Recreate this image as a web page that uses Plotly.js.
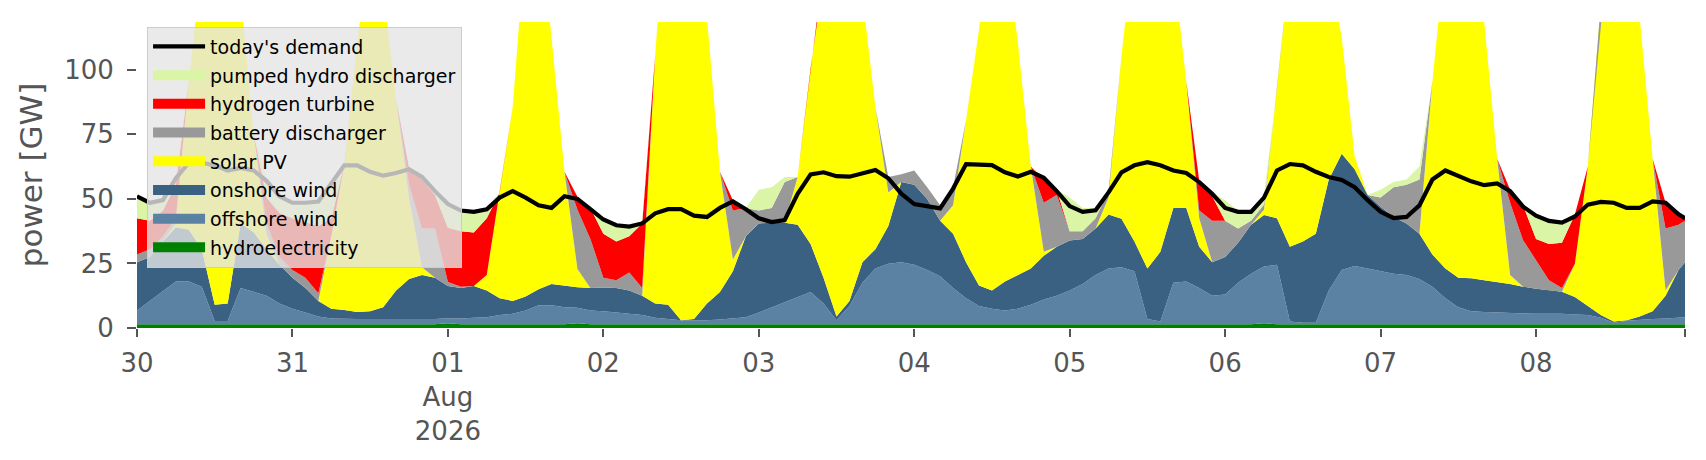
<!DOCTYPE html>
<html>
<head>
<meta charset="utf-8">
<script src="https://cdn.plot.ly/plotly-3.0.1.min.js"></script>
<style>
  html, body { margin: 0; padding: 0; background: #fff; }
  #chart { width: 1706px; height: 460px; }
</style>
</head>
<body>
<div id="chart"></div>
<script>
// hours after 2026-07-30 00:00 (two-hourly samples, last one at 23:00 on Aug 8)
var hours = [
  0, 2, 4, 6, 8, 10, 12, 14, 16, 18, 20, 22,
  24, 26, 28, 30, 32, 34, 36, 38, 40, 42, 44, 46,
  48, 50, 52, 54, 56, 58, 60, 62, 64, 66, 68, 70,
  72, 74, 76, 78, 80, 82, 84, 86, 88, 90, 92, 94,
  96, 98, 100, 102, 104, 106, 108, 110, 112, 114, 116, 118,
  120, 122, 124, 126, 128, 130, 132, 134, 136, 138, 140, 142,
  144, 146, 148, 150, 152, 154, 156, 158, 160, 162, 164, 166,
  168, 170, 172, 174, 176, 178, 180, 182, 184, 186, 188, 190,
  192, 194, 196, 198, 200, 202, 204, 206, 208, 210, 212, 214,
  216, 218, 220, 222, 224, 226, 228, 230, 232, 234, 236, 238,
  239
];

// GW, one row per day
var hydro = [
  1.5, 1.5, 1.5, 1.5, 1.5, 1.5, 1.5, 1.5, 1.5, 1.5, 1.5, 1.5,
  1.5, 1.5, 1.5, 1.5, 1.5, 1.5, 1.5, 1.5, 1.5, 1.5, 1.5, 1.5,
  1.8, 1.5, 1.5, 1.5, 1.5, 1.5, 1.5, 1.5, 1.5, 1.5, 1.8, 1.5,
  1.5, 1.5, 1.5, 1.5, 1.5, 1.5, 1.5, 1.5, 1.5, 1.5, 1.5, 1.5,
  1.5, 1.5, 1.5, 1.5, 1.5, 1.5, 1.5, 1.5, 1.5, 1.5, 1.5, 1.5,
  1.5, 1.5, 1.5, 1.5, 1.5, 1.5, 1.5, 1.5, 1.5, 1.5, 1.5, 1.5,
  1.5, 1.5, 1.5, 1.5, 1.5, 1.5, 1.5, 1.5, 1.5, 1.5, 1.5, 1.5,
  1.5, 1.5, 1.5, 1.8, 1.5, 1.5, 1.5, 1.5, 1.5, 1.5, 1.5, 1.5,
  1.5, 1.5, 1.5, 1.5, 1.5, 1.5, 1.5, 1.5, 1.5, 1.5, 1.5, 1.5,
  1.5, 1.5, 1.5, 1.5, 1.5, 1.5, 1.5, 1.5, 1.5, 1.5, 1.5, 1.5,
  1.5
];
var offshore = [
  5.3, 9, 13, 16.5, 16.5, 14.5, 1.2, 1.2, 14, 12.5, 11, 8,
  6, 4.5, 3, 2.2, 2, 2, 2, 2, 1.8, 2, 2, 2,
  2, 2.2, 2.5, 2.7, 3.5, 4, 5.3, 7.3, 7.3, 6.5, 6, 5.3,
  5, 4.5, 4, 3.5, 2.5, 2, 1.5, 1.5, 1.5, 1.8, 2.3, 2.7,
  4.5, 6.5, 8.3, 10.5, 12.4, 8, 1.5, 7, 16, 21.5, 23.4, 24,
  23, 21, 18.5, 14, 10, 7, 6, 5.3, 6, 7.5, 9.5, 11,
  13, 15.5, 19, 21.5, 22, 20.5, 2, 1, 16, 16.5, 14, 11,
  11.5, 16, 19.5, 22, 23, 1, 0.5, 0.5, 13, 21, 22.5, 21.5,
  20.5, 19.5, 19, 17.5, 14.5, 10, 6.5, 5, 4.7, 4.5, 4.2, 4,
  4, 4, 4, 3.7, 3.5, 2.5, 0.5, 1.3, 1.7, 2, 2.2, 2.6,
  2.7
];
var onshore = [
  18.7, 17, 19, 21, 20, 14.5, 6.3, 6.8, 25, 23.1, 18, 15,
  12, 9.5, 6, 3.8, 3.5, 2.7, 3, 4.5, 11.2, 15.5, 17, 16,
  12.5, 11.8, 12.3, 10.3, 6.5, 5, 5.4, 6.2, 8.2, 8.3, 8, 8.7,
  9.2, 9.5, 9, 7.5, 5.5, 5.5, 0, 0.5, 6.5, 10.6, 18.2, 31.3,
  34.5, 32.8, 31, 28, 18.6, 10, 1.5, 2, 8, 7.5, 14.6, 31,
  31, 27.5, 21.5, 21, 14, 8, 7, 11.2, 13, 14, 17, 19,
  19.4, 17.5, 18, 21, 18.8, 11.5, 19.5, 27, 29, 28.5, 16, 13,
  14.5, 15.5, 19, 20, 18, 29, 31.5, 34.5, 43, 45, 37.5, 28.5,
  25, 22, 20, 17.5, 12.5, 11.5, 11.5, 12.8, 12.3, 11.8, 11.3, 10.5,
  9.7, 9.2, 8.5, 6.8, 3.5, 1, 0.5, 0.2, 1.3, 3, 8.8, 18.4,
  21.3
];
var solar = [
  0, 0, 0, 1.5, 57.5, 120, 176.5, 161, 88, 38.4, 6, 0,
  0, 0, 0, 28, 55.5, 104.3, 144, 122.5, 74, 31.5, 3, 0,
  0, 0, 0, 6, 41, 75, 138.3, 145.5, 95.5, 44.2, 7, 0,
  0, 0, 0, 0, 96, 166.5, 187.5, 167, 111, 46.6, 4.5, 0,
  0, 0, 0, 18.5, 68, 121, 166, 155, 103, 55, 13, 0,
  0, 0, 0, 11, 55, 99, 146, 132.5, 90, 39.5, 1.5, 0,
  0, 0, 0, 6.5, 63.2, 117, 152.5, 136, 94, 49, 11, 0,
  0, 0, 0, 2, 50, 109, 137, 129, 83, 45, 5, 0,
  0, 0, 0, 0, 67, 122.5, 156, 141.2, 100, 47.7, 3.5, 0,
  0, 0, 0, 12.9, 54, 120.5, 168, 165.5, 116, 59, 2, 0,
  0
];
var battery = [
  3, 3, 2, 2, 0, 0, 0, 0, 0, 0, 4, 3,
  3, 4, 3, 0, 1, 0, 0, 0, 0, 5, 15, 19,
  1.5, 0.5, 0, 0, 0, 0, 0, 0, 0, 0, 23, 19,
  3.8, 3, 7, 3, 0, 0, 0, 0, 0, 0, 19, 11,
  5, 5.7, 15.7, 0, 0, 0, 0, 0, 0, 0, 6, 3,
  5.5, 4.5, 6, 7, 0, 0, 0, 0, 0, 0, 19, 20,
  3.6, 3, 4, 2.5, 0, 0, 0, 0, 0, 0, 3, 16,
  14, 5.5, 1.5, 2, 0, 0, 0, 0, 0, 0, 0, 0,
  3.5, 11.5, 15, 21, 0, 0, 0, 0, 0, 0, 28, 18,
  11.3, 3.8, 1.5, 0, 0, 0, 0, 0, 0, 0, 24, 17.5,
  16
];
var hydrogen = [
  14, 11, 10, 13, 0, 0, 0, 0, 0, 0, 10, 17,
  20, 21.5, 26, 7, 0, 0, 0, 0, 0, 6.5, 19, 13,
  21, 21.5, 20.7, 22, 0, 0, 0, 0, 0, 0, 5, 12,
  17, 15, 14, 25, 0, 0, 0, 0, 0, 0, 4, 0,
  0, 0, 0, 0, 0, 0, 0, 0, 0, 0, 0, 0,
  0, 0, 0, 0, 0, 0, 0, 0, 0, 0, 9, 2,
  0, 0, 0, 0, 0, 0, 0, 0, 0, 0, 11.5, 9.5,
  0, 0, 0, 0, 0, 0, 0, 0, 0, 0, 0, 0,
  0, 0, 0, 0, 0, 0, 0, 0, 0, 0, 5, 13.5,
  8, 14, 17.5, 19.1, 0, 0, 0, 0, 0, 0, 10, 5,
  1.5
];
var pumpedHydro = [
  9, 7.5, 4.5, 3, 0, 0, 0, 0, 0, 0, 7, 7,
  6.5, 8, 10, 14, 0, 0, 0, 0, 0, 0, 1.5, 2,
  10, 8.5, 8.5, 4, 0, 0, 0, 0, 0, 0, 0, 0,
  6.5, 7, 4.5, 1, 0, 0, 0, 0, 0, 0, 0, 0,
  8, 8, 2, 0, 0, 0, 0, 0, 0, 0, 0, 0,
  0, 0, 0, 0, 0, 0, 0, 0, 0, 0, 1, 0,
  13, 9, 4, 0, 0, 0, 0, 0, 0, 0, 0, 1.5,
  8, 7, 4, 3.5, 0, 0, 0, 0, 0, 0, 0, 0,
  3, 2, 2, 5, 0, 0, 0, 0, 0, 0, 0, 0,
  9.5, 9.8, 8.3, 0, 0, 0, 0, 0, 0, 0, 0, 0,
  0
];
var demand = [
  51, 48.5, 49.5, 58, 64, 64, 63, 61, 62, 61, 57, 51,
  48.5, 48.5, 49, 56, 63, 63, 60.5, 59, 60, 61.5, 58.5, 53,
  48, 45.5, 45, 46, 50.5, 53, 50.5, 47.5, 46.5, 51, 50, 46,
  42, 39.8, 39.3, 40.5, 44.4, 46, 46, 43.5, 43, 46.5, 49, 46,
  42.5, 41, 41.8, 52, 59.5, 60.3, 58.8, 58.6, 60, 61.2, 58, 52,
  48, 47, 46.3, 54, 63.5, 63.3, 63.1, 60.3, 58.7, 60.5, 58.2, 53,
  47.2, 45, 45.6, 52.5, 60.3, 63, 64.2, 63, 61, 60, 56.5, 52,
  46.5, 45, 45, 50.5, 61, 63.5, 63, 60.5, 58.5, 57.3, 54.5, 49.5,
  45, 42.6, 43, 47.5, 57.5, 61, 58.8, 56.8, 55.3, 56, 53, 47,
  43.5, 41.5, 40.8, 43.2, 47.8, 48.8, 48.5, 46.5, 46.5, 49, 48.5, 44,
  42.5
];

var dayLabels = ['30', '31', '01<br>Aug<br>2026', '02', '03', '04', '05', '06', '07', '08'];

function stamp(h) {
  var d = new Date(Date.UTC(2026, 6, 30) + h * 3600 * 1000);
  return d.toISOString().slice(0, 16).replace('T', ' ');
}
var x = hours.map(stamp);

var tickVals = dayLabels.map(function (l, i) { return stamp(24 * i); });
tickVals.push(x[x.length - 1]);
var tickText = dayLabels.concat(['']);

// bottom of the stack first
var stack = [
  {name: 'hydroelectricity', y: hydro, color: '#008000'},
  {name: 'offshore wind', y: offshore, color: '#5b82a3'},
  {name: 'onshore wind', y: onshore, color: '#3b6182'},
  {name: 'solar PV', y: solar, color: '#ffff00'},
  {name: 'battery discharger', y: battery, color: '#999999'},
  {name: 'hydrogen turbine', y: hydrogen, color: '#ff0000'},
  {name: 'pumped hydro discharger', y: pumpedHydro, color: '#d9f5a5'}
];

var data = stack.map(function (s) {
  return {
    x: x, y: s.y, name: s.name, type: 'scatter', mode: 'lines',
    stackgroup: 'supply', line: {width: 0}, fillcolor: s.color,
    hoverinfo: 'skip', showlegend: false
  };
});
data.push({
  x: x, y: demand, name: "today's demand", type: 'scatter', mode: 'lines',
  line: {color: '#000000', width: 4.2}, hoverinfo: 'skip', legendgroup: 'demand'
});
// thick legend swatches, like matplotlib patches (top of the stack listed first)
stack.slice().reverse().forEach(function (s) {
  data.push({
    x: [x[0]], y: [null], name: s.name, type: 'scatter', mode: 'lines',
    line: {color: s.color, width: 13}, hoverinfo: 'skip', legendgroup: s.name
  });
});

var layout = {
  width: 1706, height: 460,
  margin: {l: 137, r: 21, t: 22, b: 132},
  paper_bgcolor: '#ffffff', plot_bgcolor: '#ffffff',
  font: {family: 'DejaVu Sans', color: '#555555', size: 26},
  showlegend: true,
  legend: {
    x: 0.0065, y: 0.985, xanchor: 'left', yanchor: 'top',
    bgcolor: 'rgba(229,229,229,0.8)', bordercolor: '#cccccc', borderwidth: 1,
    font: {size: 19, color: '#000000'}, traceorder: 'grouped',
    tracegroupgap: 1, itemwidth: 52
  },
  xaxis: {
    type: 'date', range: [x[0], x[x.length - 1]],
    tickmode: 'array', tickvals: tickVals, ticktext: tickText,
    ticks: 'outside', ticklen: 8, tickwidth: 2, tickcolor: '#555555',
    showgrid: false, zeroline: false, showline: false,
    tickfont: {size: 26, color: '#555555'}, ticklabelstandoff: 4
  },
  yaxis: {
    range: [0, 118.5], tickmode: 'array', tickvals: [0, 25, 50, 75, 100],
    ticks: 'outside', ticklen: 9, tickwidth: 2, tickcolor: '#555555',
    showgrid: false, zeroline: false, showline: false,
    tickfont: {size: 26, color: '#555555'}, ticklabelstandoff: 8,
    title: {text: 'power [GW]', font: {size: 31, color: '#555555'}, standoff: 12}
  }
};

Plotly.newPlot('chart', data, layout, {staticPlot: true});
</script>
</body>
</html>
